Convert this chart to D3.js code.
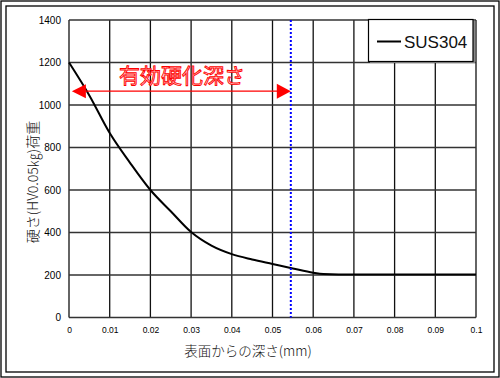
<!DOCTYPE html>
<html>
<head>
<meta charset="utf-8">
<script src="https://cdn.jsdelivr.net/npm/d3@7"></script>
<style>
  html, body { margin: 0; padding: 0; background: #fff; }
  svg { display: block; }
</style>
</head>
<body>
<svg id="chart" width="500" height="378"></svg>
<script>
// ---- data ----
const depths = [0, 0.005, 0.01, 0.015, 0.02, 0.025, 0.03, 0.035, 0.04, 0.045, 0.05, 0.055, 0.06, 0.0625, 0.07, 0.08, 0.09, 0.1];
const hardness = [1200, 1045, 868, 728, 600, 500, 402, 338, 298, 273, 252, 231, 211, 205, 202, 202, 202, 202];
const seriesName = "SUS304";
const xTicks = [0, 0.01, 0.02, 0.03, 0.04, 0.05, 0.06, 0.07, 0.08, 0.09, 0.1];
const xTickLabels = ["0", "0.01", "0.02", "0.03", "0.04", "0.05", "0.06", "0.07", "0.08", "0.09", "0.1"];
const yTicks = [0, 200, 400, 600, 800, 1000, 1200, 1400];
const yTickLabels = ["0", "200", "400", "600", "800", "1000", "1200", "1400"];
const effectiveDepth = 0.0545;
const arrowStart = 0.0007;
const arrowHardness = 1065;
const annotationText = "有効硬化深さ";
const xTitle = "表面からの深さ(mm)";
const yTitle = "硬さ(HV0.05㎏)荷重";

// ---- drawing ----
const svg = d3.select("#chart");
const x = d3.scaleLinear().domain([0, 0.1]).range([69, 476]);
const y = d3.scaleLinear().domain([0, 1400]).range([317.5, 20]);

// frames
svg.append("rect").attr("x", 1).attr("y", 1).attr("width", 498).attr("height", 376)
  .attr("fill", "#fff").attr("stroke", "#000").attr("stroke-width", 1.3);
svg.append("rect").attr("x", 6).attr("y", 6).attr("width", 488).attr("height", 366)
  .attr("fill", "#fff").attr("stroke", "#000").attr("stroke-width", 1.3);

// grid
const grid = svg.append("g");
grid.selectAll(".vg").data(xTicks).join("line")
  .attr("x1", d => x(d)).attr("x2", d => x(d))
  .attr("y1", y(1400)).attr("y2", y(0))
  .attr("stroke", "#111").attr("stroke-width", 1.3);
grid.selectAll(".hg").data(yTicks).join("line")
  .attr("x1", x(0)).attr("x2", x(0.1))
  .attr("y1", d => y(d)).attr("y2", d => y(d))
  .attr("stroke", "#333").attr("stroke-width", 1.5);

// axes tick labels
const yAxis = d3.axisLeft(y).tickValues(yTicks).tickSize(0).tickPadding(8)
  .tickFormat((d, i) => yTickLabels[i]);
const gy = svg.append("g").attr("transform", `translate(${x(0)},0)`).call(yAxis);
gy.select(".domain").remove();
gy.selectAll("text").attr("font-family", "Liberation Sans, Arial, sans-serif")
  .attr("font-size", 10).attr("fill", "#000");

const xAxis = d3.axisBottom(x).tickValues(xTicks).tickSize(0).tickPadding(9)
  .tickFormat((d, i) => xTickLabels[i]);
const gx = svg.append("g").attr("transform", `translate(0,${y(0)})`).call(xAxis);
gx.select(".domain").remove();
gx.selectAll("text").attr("font-family", "Liberation Sans, Arial, sans-serif")
  .attr("font-size", 8.5).attr("fill", "#000");

// data line
const pts = depths.map((d, i) => [d, hardness[i]]);
svg.append("path").datum(pts)
  .attr("d", d3.line().x(d => x(d[0])).y(d => y(d[1])).curve(d3.curveMonotoneX))
  .attr("fill", "none").attr("stroke", "#000").attr("stroke-width", 2);

// effective depth dotted line
svg.append("line")
  .attr("x1", x(effectiveDepth)).attr("x2", x(effectiveDepth))
  .attr("y1", y(1400)).attr("y2", y(0))
  .attr("stroke", "#0000ff").attr("stroke-width", 2).attr("stroke-dasharray", "2,2");

// red arrow
const ay = y(arrowHardness);
const ax1 = x(arrowStart), ax2 = x(effectiveDepth);
svg.append("line").attr("x1", ax1 + 10).attr("x2", ax2 - 10).attr("y1", ay).attr("y2", ay)
  .attr("stroke", "#ff0000").attr("stroke-width", 1.3);
svg.append("path").attr("d", `M${ax1},${ay} L${ax1 + 14},${ay - 7} L${ax1 + 14},${ay + 7} Z`)
  .attr("fill", "#ff0000");
svg.append("path").attr("d", `M${ax2},${ay} L${ax2 - 14},${ay - 7.5} L${ax2 - 14},${ay + 7.5} Z`)
  .attr("fill", "#ff0000");
svg.append("text").attr("x", 182).attr("y", 82.5).attr("text-anchor", "middle")
  .attr("font-family", "Noto Sans CJK JP, sans-serif").attr("font-size", 21)
  .attr("fill", "#ffd0d0").attr("stroke", "#ff0000").attr("stroke-width", 0.9)
  .text(annotationText);

// legend
svg.append("rect").attr("x", 370).attr("y", 21).attr("width", 105).attr("height", 42)
  .attr("fill", "#888");
svg.append("rect").attr("x", 368.5).attr("y", 19.5).attr("width", 104.5).attr("height", 42)
  .attr("fill", "#fff").attr("stroke", "#000").attr("stroke-width", 1.2);
svg.append("line").attr("x1", 377).attr("x2", 401).attr("y1", 41.5).attr("y2", 41.5)
  .attr("stroke", "#000").attr("stroke-width", 2);
svg.append("text").attr("x", 404).attr("y", 47.8)
  .attr("font-family", "Liberation Sans, Arial, sans-serif").attr("font-size", 17)
  .attr("fill", "#111").text(seriesName);

// titles
svg.append("text").attr("x", 248).attr("y", 355.5).attr("text-anchor", "middle")
  .attr("font-family", "Noto Sans CJK JP, sans-serif").attr("font-size", 13.5)
  .attr("font-weight", 300).attr("fill", "#111").text(xTitle);
svg.append("text").attr("transform", "translate(37.5,182) rotate(-90)").attr("text-anchor", "middle")
  .attr("font-family", "Noto Sans CJK JP, sans-serif").attr("font-size", 14)
  .attr("font-weight", 300).attr("fill", "#111").text(yTitle);
</script>
</body>
</html>
